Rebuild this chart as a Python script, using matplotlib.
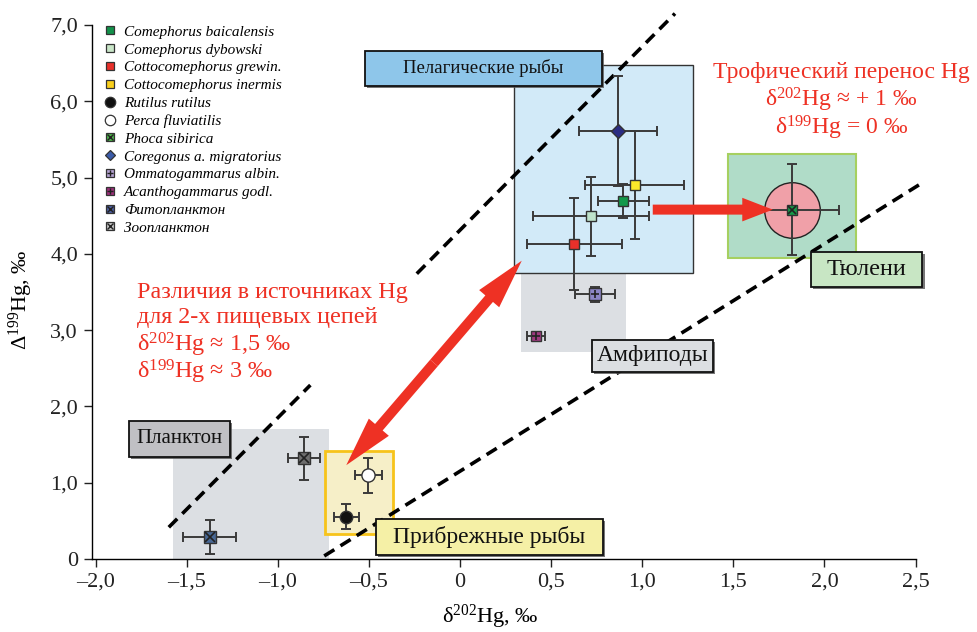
import matplotlib
matplotlib.use('Agg')
import matplotlib.pyplot as plt
import matplotlib.patches as mpatches
from matplotlib.patches import FancyArrowPatch, ArrowStyle
from matplotlib.lines import Line2D
from matplotlib.legend_handler import HandlerTuple
import matplotlib.patheffects as pe

plt.rcParams['font.family'] = ['Liberation Serif', 'DejaVu Serif']
plt.rcParams['mathtext.fontset'] = 'custom'
plt.rcParams['mathtext.rm'] = 'Liberation Serif'
plt.rcParams['mathtext.it'] = 'Liberation Serif:italic'
plt.rcParams['mathtext.bf'] = 'Liberation Serif:bold'

# ---------------- data ----------------
species = ['Comephorus baicalensis', 'Comephorus dybowski', 'Cottocomephorus grewin.',
           'Cottocomephorus inermis', 'Rutilus rutilus', 'Perca fluviatilis',
           'Phoca sibirica', 'Coregonus a. migratorius', 'Ommatogammarus albin.',
           'Acanthogammarus godl.', 'Фитопланктон', 'Зоопланктон']
d202 = [0.895, 0.72, 0.628, 0.958, -0.624, -0.502, 1.821, 0.869, 0.741, 0.418, -1.373, -0.856]
D199 = [4.69, 4.49, 4.13, 4.90, 0.555, 1.10, 4.58, 5.61, 3.47, 2.92, 0.29, 1.32]
d202_err = [0.14, 0.32, 0.26, 0.27, 0.07, 0.075, 0.26, 0.215, 0.11, 0.05, 0.145, 0.087]
D199_err = [0.22, 0.52, 0.60, 0.71, 0.16, 0.23, 0.60, 0.72, 0.10, 0.03, 0.22, 0.28]

xticks = [-2.0, -1.5, -1.0, -0.5, 0, 0.5, 1.0, 1.5, 2.0, 2.5]
xticklabels = ['–2,0', '–1,5', '–1,0', '–0,5', '0', '0,5', '1,0', '1,5', '2,0', '2,5']
yticks = [0, 1, 2, 3, 4, 5, 6, 7]
yticklabels = ['0', '1,0', '2,0', '3,0', '4,0', '5,0', '6,0', '7,0']

# group regions: (x0, x1, y0, y1)
regions = {
    'plankton': (-1.576, -0.721, 0.0, 1.70),
    'coastal': (-0.739, -0.370, 0.328, 1.415),
    'amphipod': (0.336, 0.911, 2.71, 3.75),
    'pelagic': (0.297, 1.278, 3.75, 6.47),
    'seals': (1.469, 2.172, 3.94, 5.31),
}
# group labels: (text, x0, x1, y0, y1)
group_labels = [
    ('Пелагические рыбы', -0.520, 0.778, 6.20, 6.66),
    ('Амфиподы', 0.726, 1.390, 2.455, 2.87),
    ('Тюлени', 1.925, 2.538, 3.57, 4.03),
    ('Прибрежные рыбы', -0.459, 0.783, 0.056, 0.52),
    ('Планктон', -1.817, -1.264, 1.34, 1.81),
]
# dashed guide lines: ([x0, x1], [y0, y1])
guide_lines = [
    ([-1.598, -0.821], [0.416, 2.28]),
    ([-0.237, 1.18], [3.74, 7.15]),
    ([-0.745, 2.523], [0.04, 4.91]),
]

# ---------------- styles ----------------
markers = ['s', 's', 's', 's', 'o', 'o', 's', 'D', 's', 's', 's', 's']
msizes = [7.5, 7.5, 7.5, 7.5, 9, 9.5, 6.5, 7, 8, 7, 8.5, 8.5]
chart_colors = ['#13994a', '#bfe3cb', '#e8302a', '#fbe82a', '#111111', '#ffffff',
                '#169a48', '#2b2d83', '#8c86c6', '#9e3a7f', '#486895', '#6e6e6e']
legend_colors = ['#12914a', '#c9e6c8', '#e8302a', '#f9cf1c', '#111111', '#ffffff',
                 '#4db348', '#3b5ba8', '#b5a3d3', '#9b2f79', '#4a5c9e', '#c4c4c4']
overlay = [None, None, None, None, None, None, 'x', None, '+', '+', 'x', 'x']
legend_ms = [5.5, 5.5, 5.5, 5.5, 7.5, 7.5, 6, 5, 5.5, 5.5, 5.5, 5.5]

RED = '#ee3124'

fig = plt.figure(figsize=(9.77, 6.32), dpi=100)
ax = fig.add_axes([91.9 / 977, 1 - 559 / 632, (915.5 - 91.9) / 977, 534 / 632])
ax.set_xlim(-2.02, 2.5)
ax.set_ylim(0, 7)

# regions
rs = regions
def rect(key, fc, ec='none', lw=0, z=1):
    x0, x1, y0, y1 = rs[key]
    ax.add_patch(mpatches.Rectangle((x0, y0), x1 - x0, y1 - y0, fc=fc, ec=ec, lw=lw,
                                    zorder=z, clip_on=False))
rect('plankton', '#dcdfe3', z=1)
rect('amphipod', '#dcdfe3', z=1)
rect('pelagic', '#d2eaf8', ec='#333333', lw=1.0, z=1.2)
rect('seals', '#b0dcc8', ec='#a6d060', lw=1.5, z=1.2)
rect('coastal', '#f6efc8', ec='#f7c31a', lw=2.0, z=1.3)

# pink circle around Phoca
ax.plot([d202[6]], [D199[6]], 'o', ms=40, mfc='#f0a0a8', mec='#222222', mew=1.0, zorder=2)

# guide lines
for xs, ys in guide_lines:
    ax.plot(xs, ys, color='black', lw=2.6, ls=(0, (3.3, 2.0)), zorder=3,
            clip_on=False, solid_capstyle='butt', dash_capstyle='butt')

# error bars and markers
for i in range(len(species)):
    ax.errorbar(d202[i], D199[i], xerr=d202_err[i], yerr=D199_err[i], fmt='none',
                ecolor='#3a3a3a', elinewidth=1.4, capsize=3.8, capthick=1.4, zorder=4)
    ax.plot(d202[i], D199[i], marker=markers[i], ls='', ms=msizes[i],
            mfc=chart_colors[i], mec='#333333', mew=1.0, zorder=5)
    if overlay[i]:
        ax.plot(d202[i], D199[i], marker=overlay[i], ls='', ms=msizes[i] * 0.8,
                mec='#222222', mew=1.2, zorder=5.5)

# arrows
def arrow(p0, p1, hl, hw, tw):
    a = FancyArrowPatch(p0, p1, arrowstyle=ArrowStyle.Simple(head_length=hl, head_width=hw,
                                                             tail_width=tw),
                        mutation_scale=1, shrinkA=0, shrinkB=0, fc=RED, ec='none',
                        zorder=6, clip_on=False)
    ax.add_patch(a)

arrow((1.058, 4.58), (1.717, 4.58), 22, 17, 7.2)
pa, pb = (0.339, 3.91), (-0.624, 1.23)
mid = ((pa[0] + pb[0]) / 2, (pa[1] + pb[1]) / 2)
arrow(mid, pa, 36, 19, 7.2)
arrow(mid, pb, 36, 19, 7.2)

# group labels
label_fc = {'Пелагические рыбы': '#8ec6ea', 'Амфиподы': '#dcdfe2', 'Тюлени': '#c8e6c4',
            'Прибрежные рыбы': '#f5f0a6', 'Планктон': '#c0c0c4'}
label_fs = {'Пелагические рыбы': 13.5, 'Амфиподы': 17, 'Тюлени': 17.5,
            'Прибрежные рыбы': 17, 'Планктон': 15}
for txt, x0, x1, y0, y1 in group_labels:
    r = mpatches.Rectangle((x0, y0), x1 - x0, y1 - y0, fc=label_fc[txt], ec='#111111',
                           lw=1.3, zorder=7, clip_on=False,
                           path_effects=[pe.withSimplePatchShadow(offset=(1.5, -1.5),
                                                                  shadow_rgbFace='#555555',
                                                                  alpha=0.8)])
    ax.add_patch(r)
    ax.text((x0 + x1) / 2, (y0 + y1) / 2, txt, ha='center', va='center',
            fontsize=label_fs[txt], color='#111111', zorder=8, clip_on=False)

# red annotation texts
right_lines = ['Трофический перенос Hg', 'δ$^{202}$Hg ≈ + 1 ‰', 'δ$^{199}$Hg = 0 ‰']
right_y = [6.30, 5.93, 5.56]
for t, yy in zip(right_lines, right_y):
    ax.text(2.093, yy, t, ha='center', va='baseline', fontsize=17, color=RED,
            zorder=8, clip_on=False)
left_lines = ['Различия в источниках Hg', 'для 2-х пищевых цепей',
              'δ$^{202}$Hg ≈ 1,5 ‰', 'δ$^{199}$Hg ≈ 3 ‰']
left_y = [3.417, 3.090, 2.718, 2.369]
for t, yy in zip(left_lines, left_y):
    ax.text(-1.775, yy, t, ha='left', va='baseline', fontsize=17.4, color=RED,
            zorder=8, clip_on=False)

# axes styling
for s in ['top', 'right']:
    ax.spines[s].set_visible(False)
ax.spines['left'].set_bounds(0, 7)
ax.spines['left'].set_linewidth(1.0)
ax.spines['bottom'].set_linewidth(1.0)
ax.set_xticks(xticks)
ax.set_xticklabels(xticklabels)
ax.set_yticks(yticks)
ax.set_yticklabels(yticklabels)
ax.tick_params(direction='out', length=6, width=1.0, labelsize=16, colors='#222222', pad=4)

fig.text(490 / 977, 1 - 617 / 632, 'δ$^{202}$Hg, ‰', ha='center', va='center', fontsize=16)
fig.text(21 / 977, 1 - 300 / 632, 'Δ$^{199}$Hg, ‰', ha='center', va='center', fontsize=16,
         rotation=90)

# legend
handles = []
for i in range(len(species)):
    h = Line2D([], [], marker=markers[i], ls='', ms=legend_ms[i], mfc=legend_colors[i],
               mec='#333333', mew=0.9)
    if overlay[i]:
        h2 = Line2D([], [], marker=overlay[i], ls='', ms=legend_ms[i] * 0.8,
                    mec='#222222', mew=1.0)
        h = (h, h2)
    handles.append(h)
leg = ax.legend(handles, species, loc='upper left', bbox_to_anchor=(103 / 977, 1 - 25 / 632),
                bbox_transform=fig.transFigure, frameon=False,
                prop={'style': 'italic', 'size': 11}, labelspacing=0.27,
                handlelength=0.9, handletextpad=0.45, borderpad=0, borderaxespad=0,
                handler_map={tuple: HandlerTuple(ndivide=1, pad=0)})
leg.set_zorder(9)

fig.savefig('out.png', dpi=100)
